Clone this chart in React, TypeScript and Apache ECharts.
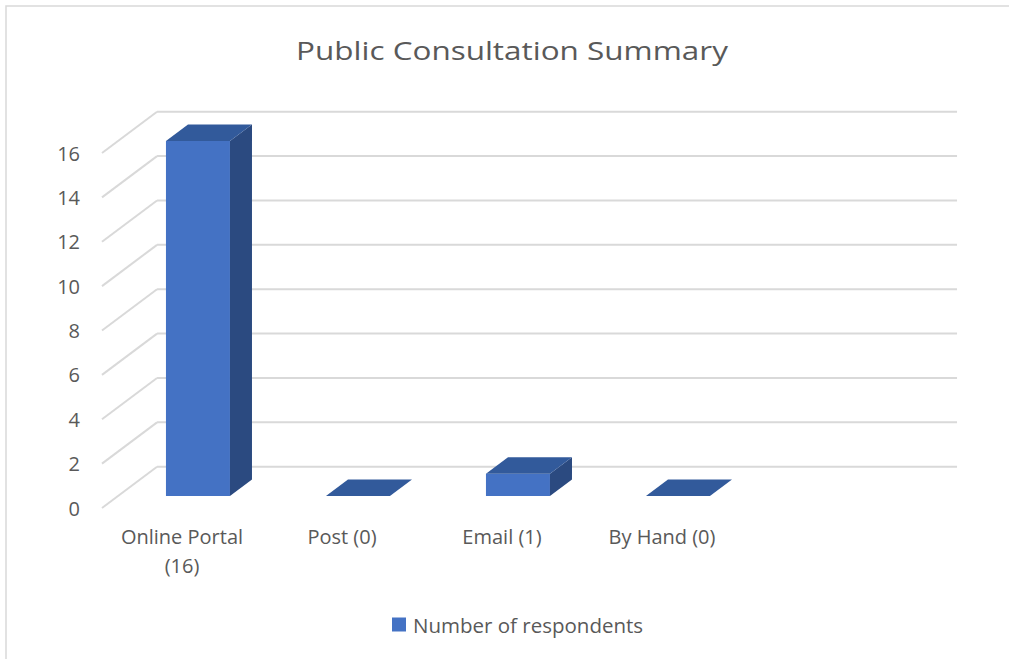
import React, { useEffect, useRef } from "react";
import * as echarts from "echarts";

const categories = ["Online Portal\n(16)", "Post (0)", "Email (1)", "By Hand (0)", ""];
const respondents = [16, 0, 1, 0];
const yTicks = [0, 2, 4, 6, 8, 10, 12, 14, 16];
const seriesName = "Number of respondents";
const titleText = "Public Consultation Summary";

const FONT = "'Open Sans', 'Noto Sans', sans-serif";
const TEXT = "#595959";
const GRID_COLOR = "#d9d9d9";
const FRONT = "#4472C4";
const TOP = "#325A9B";
const SIDE = "#2B4A80";

// oblique projection parameters (fractions of category band width)
const DEPTH_X = 0.344;
const DEPTH_SLOPE = -0.75;
const BAR_FRONT = 0.29;
const BAR_DEPTH = 0.4;
const BAR_WIDTH = 0.4;

function wallItem(params: any, api: any) {
  const cs = params.coordSys;
  const band = api.size([1, 0])[0];
  const dx = band * DEPTH_X;
  const dy = dx * DEPTH_SLOPE;
  const v = api.value(1);
  const y = api.coord([0, v])[1];
  const st = { stroke: GRID_COLOR, lineWidth: 2, fill: "none" };
  return {
    type: "group",
    children: [
      { type: "line", shape: { x1: cs.x, y1: y, x2: cs.x + dx, y2: y + dy }, style: st },
      { type: "line", shape: { x1: cs.x + dx, y1: y + dy, x2: cs.x + cs.width + dx, y2: y + dy }, style: st },
    ],
  };
}

function barItem(params: any, api: any) {
  const band = api.size([1, 0])[0];
  const dx = band * DEPTH_X;
  const dy = dx * DEPTH_SLOPE;
  const i = api.value(0);
  const v = api.value(1);
  const top = api.coord([i, v]);
  const base = api.coord([i, 0]);
  const w = band * BAR_WIDTH;
  const xl = top[0] + BAR_FRONT * dx - w / 2;
  const yt = top[1] + BAR_FRONT * dy;
  const yb = base[1] + BAR_FRONT * dy;
  const bx = BAR_DEPTH * dx;
  const by = BAR_DEPTH * dy;
  const children: any[] = [];
  if (yb - yt > 0.5) {
    children.push({ type: "rect", shape: { x: xl, y: yt, width: w, height: yb - yt }, style: { fill: FRONT } });
    children.push({
      type: "polygon",
      shape: { points: [[xl + w, yt], [xl + w + bx, yt + by], [xl + w + bx, yb + by], [xl + w, yb]] },
      style: { fill: SIDE },
    });
  }
  children.push({
    type: "polygon",
    shape: { points: [[xl, yt], [xl + w, yt], [xl + w + bx, yt + by], [xl + bx, yt + by]] },
    style: { fill: TOP },
  });
  return { type: "group", children };
}

export default function App() {
  const ref = useRef<HTMLDivElement>(null);
  useEffect(() => {
    const chart = echarts.init(ref.current!, null, { renderer: "svg" });
    const option: any = {
      animation: false,
      backgroundColor: "#ffffff",
      textStyle: { fontFamily: FONT },
      legend: {
        data: [seriesName],
        left: 392,
        top: 614,
        padding: 0,
        icon: "rect",
        itemWidth: 14,
        itemHeight: 14,
        itemGap: 10,
        textStyle: { fontFamily: FONT, fontSize: 20.5, color: TEXT, padding: [0, 0, 0, 2] },
      },
      grid: { left: 102, right: 107, top: 153, bottom: 151 },
      xAxis: {
        type: "category",
        data: categories,
        axisLine: { show: false },
        axisTick: { show: false },
        splitLine: { show: false },
        axisLabel: { interval: 0, margin: 14, color: TEXT, fontFamily: FONT, fontSize: 20, lineHeight: 29 },
      },
      yAxis: {
        type: "value",
        min: 0,
        max: 16,
        interval: 2,
        axisLine: { show: false },
        axisTick: { show: false },
        splitLine: { show: false },
        axisLabel: { margin: 22, color: TEXT, fontFamily: FONT, fontSize: 20 },
      },
      series: [
        {
          type: "custom",
          name: "walls",
          silent: true,
          z: 1,
          data: yTicks.map((v) => [0, v]),
          renderItem: wallItem,
        },
        {
          type: "custom",
          name: seriesName,
          z: 2,
          itemStyle: { color: FRONT },
          data: respondents.map((v, i) => [i, v]),
          renderItem: barItem,
        },
      ],
      graphic: [
        {
          type: "rect",
          silent: true,
          shape: { x: 6, y: 6, width: 1100, height: 800 },
          style: { fill: "none", stroke: GRID_COLOR, lineWidth: 1.5 },
        },
        {
          type: "text",
          silent: true,
          x: 512,
          y: 50,
          scaleX: 1.21,
          style: {
            text: titleText,
            fontFamily: FONT,
            fontSize: 26,
            fill: TEXT,
            textAlign: "center",
            textVerticalAlign: "middle",
          },
        },
      ],
    };
    chart.setOption(option);
    return () => chart.dispose();
  }, []);
  return <div ref={ref} style={{ position: "fixed", left: 0, top: 0, width: 1009, height: 659 }} />;
}
